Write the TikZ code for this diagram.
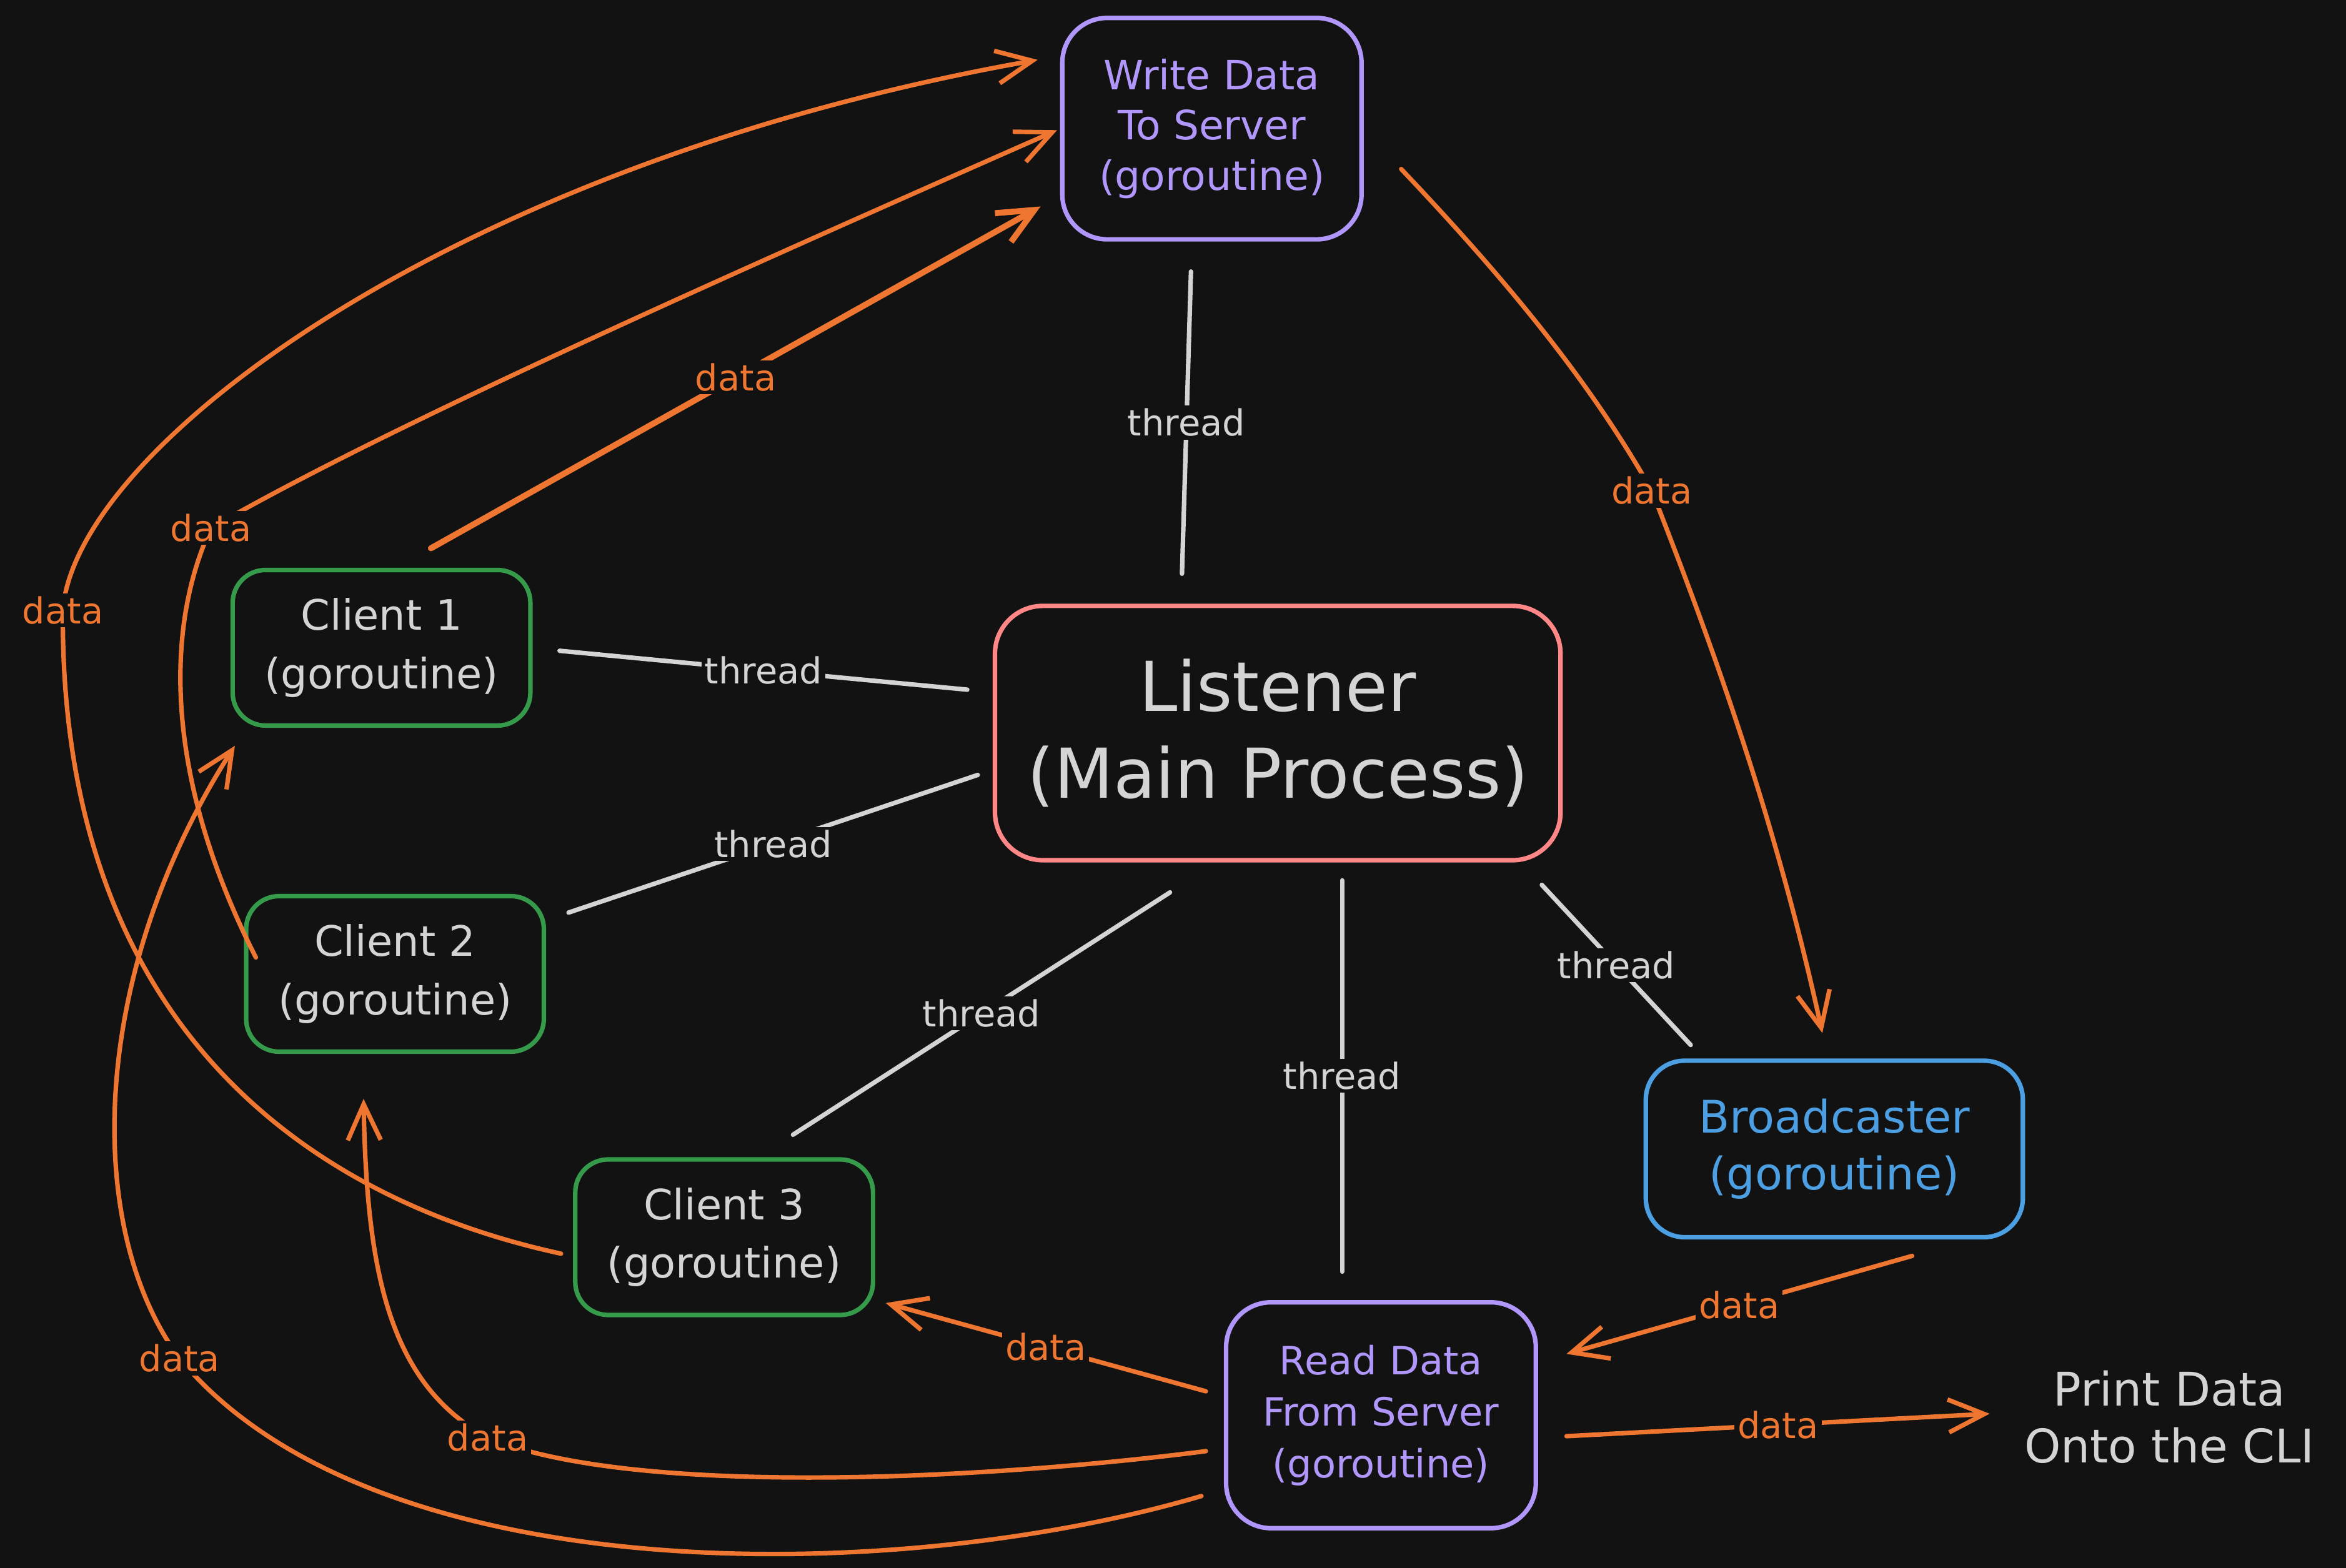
\documentclass[tikz,border=0pt]{standalone}
\usepackage{fontspec}
\setmainfont{DejaVu Sans}
\usetikzlibrary{arrows.meta}
\definecolor{bg}{HTML}{121212}
\definecolor{ink}{HTML}{D4D4D4}
\definecolor{org}{HTML}{EF7630}
\definecolor{grn}{HTML}{369A4B}
\definecolor{pur}{HTML}{B197FC}
\definecolor{pnk}{HTML}{FF8787}
\definecolor{blu}{HTML}{4C9FE3}
\begin{document}
\begin{tikzpicture}[x=1pt,y=-1pt,
  box/.style={draw, line width=3pt, fill=bg, align=center, inner sep=0pt},
  clientbox/.style={box, draw=grn, text=ink, minimum width=199pt, minimum height=104pt,
    rounded corners=22pt, font=\fontsize{28}{39}\selectfont},
  thr/.style={draw=ink, line width=3pt, line cap=round},
  dat/.style={draw=org, line width=3pt, line cap=round, line join=round,
    -{Straight Barb[length=24pt,width=22pt]}},
  tlbl/.style={fill=bg, inner sep=2pt, text=ink, font=\fontsize{24}{26}\selectfont},
  dlbl/.style={fill=bg, inner sep=2pt, text=org, font=\fontsize{24}{26}\selectfont},
]
\fill[bg] (0,0) rectangle (1568,1048);
\useasboundingbox (0,0) rectangle (1568,1048);

% boxes
\node[box, draw=pur, text=pur, minimum width=200pt, minimum height=148pt,
  rounded corners=30pt, font=\fontsize{27}{33.5}\selectfont] (w) at (810,86)
  {Write Data\\To Server\\(goroutine)};
\node[box, draw=pnk, text=ink, minimum width=378pt, minimum height=170pt,
  rounded corners=32pt, font=\fontsize{46}{58}\selectfont] (lst) at (854,490)
  {Listener\\(Main Process)};
\node[clientbox] (c1) at (255,433) {Client 1\\(goroutine)};
\node[clientbox] (c2) at (264,651) {Client 2\\(goroutine)};
\node[clientbox] (c3) at (484,827) {Client 3\\(goroutine)};
\node[box, draw=blu, text=blu, minimum width=252pt, minimum height=118pt,
  rounded corners=26pt, font=\fontsize{30}{38}\selectfont] (bc) at (1226,768)
  {Broadcaster\\(goroutine)};
\node[box, draw=pur, text=pur, minimum width=207pt, minimum height=151pt,
  rounded corners=30pt, font=\fontsize{26}{34.5}\selectfont] (rd) at (923,946)
  {Read Data\\From Server\\(goroutine)};
\node[align=center, text=ink, inner sep=0pt, minimum width=208pt,
  font=\fontsize{31}{38}\selectfont] (pr) at (1450,947) {Print Data\\Onto the CLI};

% thread connectors
\draw[thr] ([xshift=-14pt,yshift=-20pt]w.south) -- node[tlbl]{thread} ([xshift=-64pt,yshift=20pt]lst.north);
\draw[thr] ([xshift=18pt,yshift=-2pt]c1.east) -- node[tlbl]{thread} ([xshift=-17pt,yshift=29pt]lst.west);
\draw[thr] ([xshift=15pt,yshift=41pt]c2.east) -- node[tlbl]{thread} ([xshift=-10pt,yshift=-28pt]lst.west);
\draw[thr] ([xshift=46pt,yshift=15pt]c3.north) -- node[tlbl]{thread} ([xshift=-72pt,yshift=-20pt]lst.south);
\draw[thr] ([xshift=-26pt,yshift=19pt]rd.north) -- node[tlbl]{thread} ([xshift=43pt,yshift=-12pt]lst.south);
\draw[thr] ([xshift=-96pt,yshift=9pt]bc.north) -- node[tlbl]{thread} ([xshift=-14pt,yshift=-15pt]lst.south east);

% data connectors
\draw[dat, line width=4pt] ([xshift=33pt,yshift=13pt]c1.north) -- node[dlbl]{data} ([xshift=-13pt,yshift=-52pt]w.west);
\draw[dat] ([xshift=8pt,yshift=11pt]c2.west)
  .. controls (110,520) and (110,420) .. (141,353) node[dlbl]{data}
  .. controls (250,290) and (450,200) .. ([xshift=-2pt,yshift=-1pt]w.west);
\draw[dat] ([xshift=-8pt,yshift=-11pt]c3.west)
  .. controls (200,800) and (40,680) .. (42,408) node[dlbl]{data}
  .. controls (50,300) and (300,110) .. ([xshift=-15pt,yshift=46pt]w.west);
\draw[dat] ([xshift=-15pt,yshift=-54pt]rd.west)
  .. controls (600,1060) and (250,1065) .. (120,908) node[dlbl]{data}
  .. controls (55,820) and (60,650) .. ([xshift=3pt,yshift=-12pt]c1.south west);
\draw[dat] ([xshift=-12pt,yshift=-24pt]rd.west)
  .. controls (650,990) and (420,1000) .. (326,961) node[dlbl]{data}
  .. controls (260,925) and (245,850) .. ([xshift=-21pt,yshift=-30pt]c2.south);
\draw[dat] ([xshift=-12pt,yshift=16pt]rd.west) -- node[dlbl]{data} ([xshift=7pt,yshift=-44pt]c3.east);
\draw[dat] ([xshift=52pt,yshift=-11pt]bc.south) -- node[dlbl]{data} ([xshift=19pt,yshift=41pt]rd.east);
\draw[dat] ([xshift=25pt,yshift=-27pt]w.east)
  .. controls (1000,180) and (1060,250) .. (1104,328) node[dlbl]{data}
  .. controls (1140,420) and (1185,540) .. ([xshift=-8pt,yshift=17pt]bc.north);
\draw[dat] ([xshift=19pt,yshift=-14pt]rd.east) -- node[dlbl]{data} ([xshift=-16pt,yshift=2pt]pr.west);
\end{tikzpicture}
\end{document}
